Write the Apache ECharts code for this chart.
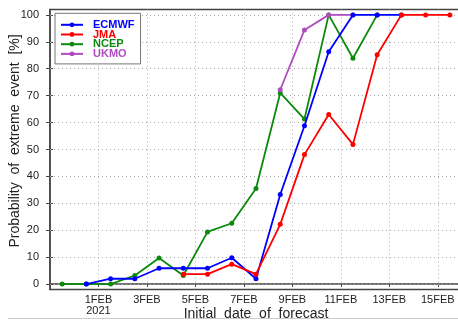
<!DOCTYPE html>
<html>
<head>
<meta charset="utf-8">
<script src="https://cdn.jsdelivr.net/npm/echarts@6/dist/echarts.min.js"></script>
<style>
  html, body { margin: 0; padding: 0; background: #fff; }
  #chart { width: 458px; height: 323px; }
</style>
</head>
<body>
<div id="chart"></div>
<script>
// Forecast initial times, in days after 30 JAN 2021 00 UTC (all 12 UTC runs)
const initTimes = [0.5, 1.5, 2.5, 3.5, 4.5, 5.5, 6.5, 7.5, 8.5, 9.5, 10.5, 11.5, 12.5, 13.5, 14.5, 15.5, 16.5];

// Probability of the extreme event [%] for each initial time (null = no forecast)
const ecmwf = [null, 0, 2.0, 2.0, 5.9, 5.9, 5.9, 9.8, 2.0, 33.3, 58.8, 86.3, 100, 100, 100, null, null];
const jma   = [null, null, null, null, null, 3.7, 3.7, 7.4, 3.7, 22.2, 48.1, 63.0, 51.9, 85.2, 100, 100, 100];
const ncep  = [0, 0, 0, 3.2, 9.7, 3.2, 19.4, 22.6, 35.5, 71.0, 61.3, 100, 83.9, 100, null, null, null];
const ukmo  = [null, null, null, null, null, null, null, null, null, 72.2, 94.4, 100, 100, null, null, null, null];

// Date axis ticks
const xTickDays = [2, 4, 6, 8, 10, 12, 14, 16];
const xTickLabels = ['1FEB\n2021', '3FEB', '5FEB', '7FEB', '9FEB', '11FEB', '13FEB', '15FEB'];
const yTickValues = [0, 10, 20, 30, 40, 50, 60, 70, 80, 90, 100];

const labelFont = '"Liberation Sans Narrow", "Liberation Sans", Arial, sans-serif';
const titleFont = 'Arial, "Liberation Sans", sans-serif';
const dotted = { color: '#aaa', width: 1, type: [1, 3] };

function pairs(values) {
  const out = [];
  values.forEach((v, i) => { if (v !== null) out.push([initTimes[i], v]); });
  return out;
}

function lineSeries(name, values, color, z) {
  return {
    name: name,
    type: 'line',
    data: pairs(values),
    symbol: 'circle',
    symbolSize: 5,
    z: z,
    lineStyle: { color: color, width: 1.8 },
    itemStyle: { color: color },
    emphasis: { disabled: true },
    animation: false
  };
}

// Horizontal dotted grid lines at the labelled probability ticks
const ncepSeries = lineSeries('NCEP', ncep, '#0b8a0b', 2);
ncepSeries.markLine = {
  silent: true,
  symbol: 'none',
  label: { show: false },
  lineStyle: dotted,
  z: 1,
  data: yTickValues.map(v => ({ yAxis: v }))
};

const chart = echarts.init(document.getElementById('chart'), null, { renderer: 'canvas' });

chart.setOption({
  backgroundColor: '#fff',
  animation: false,
  grid: {
    left: 50, top: 9.5, width: 412, height: 280,
    outerBoundsMode: 'none',
    containLabel: false,
    show: true, borderColor: '#444', borderWidth: 1.5, backgroundColor: 'transparent'
  },
  legend: {
    left: 55, top: 13.3,
    orient: 'vertical',
    data: [
      { name: 'ECMWF', textStyle: { color: '#0000ff' } },
      { name: 'JMA', textStyle: { color: '#ff0000' } },
      { name: 'NCEP', textStyle: { color: '#0b8a0b' } },
      { name: 'UKMO', textStyle: { color: '#b04cc0' } }
    ],
    itemWidth: 22, itemHeight: 6, itemGap: -1.3,
    padding: [6, 6, 4.5, 5],
    borderColor: '#777', borderWidth: 1,
    backgroundColor: '#fff',
    textStyle: { fontSize: 11, fontWeight: 'bold', fontFamily: titleFont, lineHeight: 9.7, padding: [0, 0, 0, 5] },
    selectedMode: false
  },
  xAxis: {
    type: 'value',
    min: 0, max: 17, interval: 2,
    axisLine: { lineStyle: { color: '#444', width: 1.5 } },
    axisTick: { show: true, length: 3, lineStyle: { color: '#444' } },
    axisLabel: {
      margin: 5,
      fontSize: 11,
      fontFamily: labelFont,
      color: '#222',
      lineHeight: 11,
      formatter: function (v) {
        const i = xTickDays.indexOf(v);
        return i >= 0 ? xTickLabels[i] : '';
      }
    },
    splitLine: { show: true, lineStyle: dotted }
  },
  yAxis: [
    {
      type: 'value',
      min: -2, max: 102,
      axisLine: { show: true, lineStyle: { color: '#444', width: 1.5 } },
      axisTick: { show: true, length: 4, customValues: yTickValues, lineStyle: { color: '#444' } },
      axisLabel: { customValues: yTickValues, margin: 11, fontSize: 11, fontFamily: labelFont, color: '#222' },
      splitLine: { show: false }
    },
    {
      // inner half of the probability ticks
      type: 'value',
      position: 'left',
      min: -2, max: 102,
      axisLine: { show: false },
      axisTick: { show: true, inside: true, length: 3, customValues: yTickValues, lineStyle: { color: '#444' } },
      axisLabel: { show: false },
      splitLine: { show: false }
    }
  ],
  graphic: [
    {
      type: 'text',
      x: 15, y: 141, rotation: Math.PI / 2,
      style: {
        text: 'Probability  of  extreme  event  [%]',
        fontSize: 14, fontFamily: titleFont,
        fill: '#222', align: 'center', verticalAlign: 'middle'
      }
    },
    {
      type: 'text',
      x: 256, y: 314,
      style: {
        text: 'Initial  date  of  forecast',
        fontSize: 14, fontFamily: titleFont,
        fill: '#222', align: 'center', verticalAlign: 'middle'
      }
    },
    {
      type: 'line',
      shape: { x1: 8, y1: 318.5, x2: 458, y2: 318.5 },
      style: { stroke: '#ccc', lineWidth: 1 }
    }
  ],
  series: [
    ncepSeries,
    lineSeries('UKMO', ukmo, '#b04cc0', 3),
    lineSeries('ECMWF', ecmwf, '#0000ff', 4),
    lineSeries('JMA', jma, '#ff0000', 5)
  ]
});
</script>
</body>
</html>
